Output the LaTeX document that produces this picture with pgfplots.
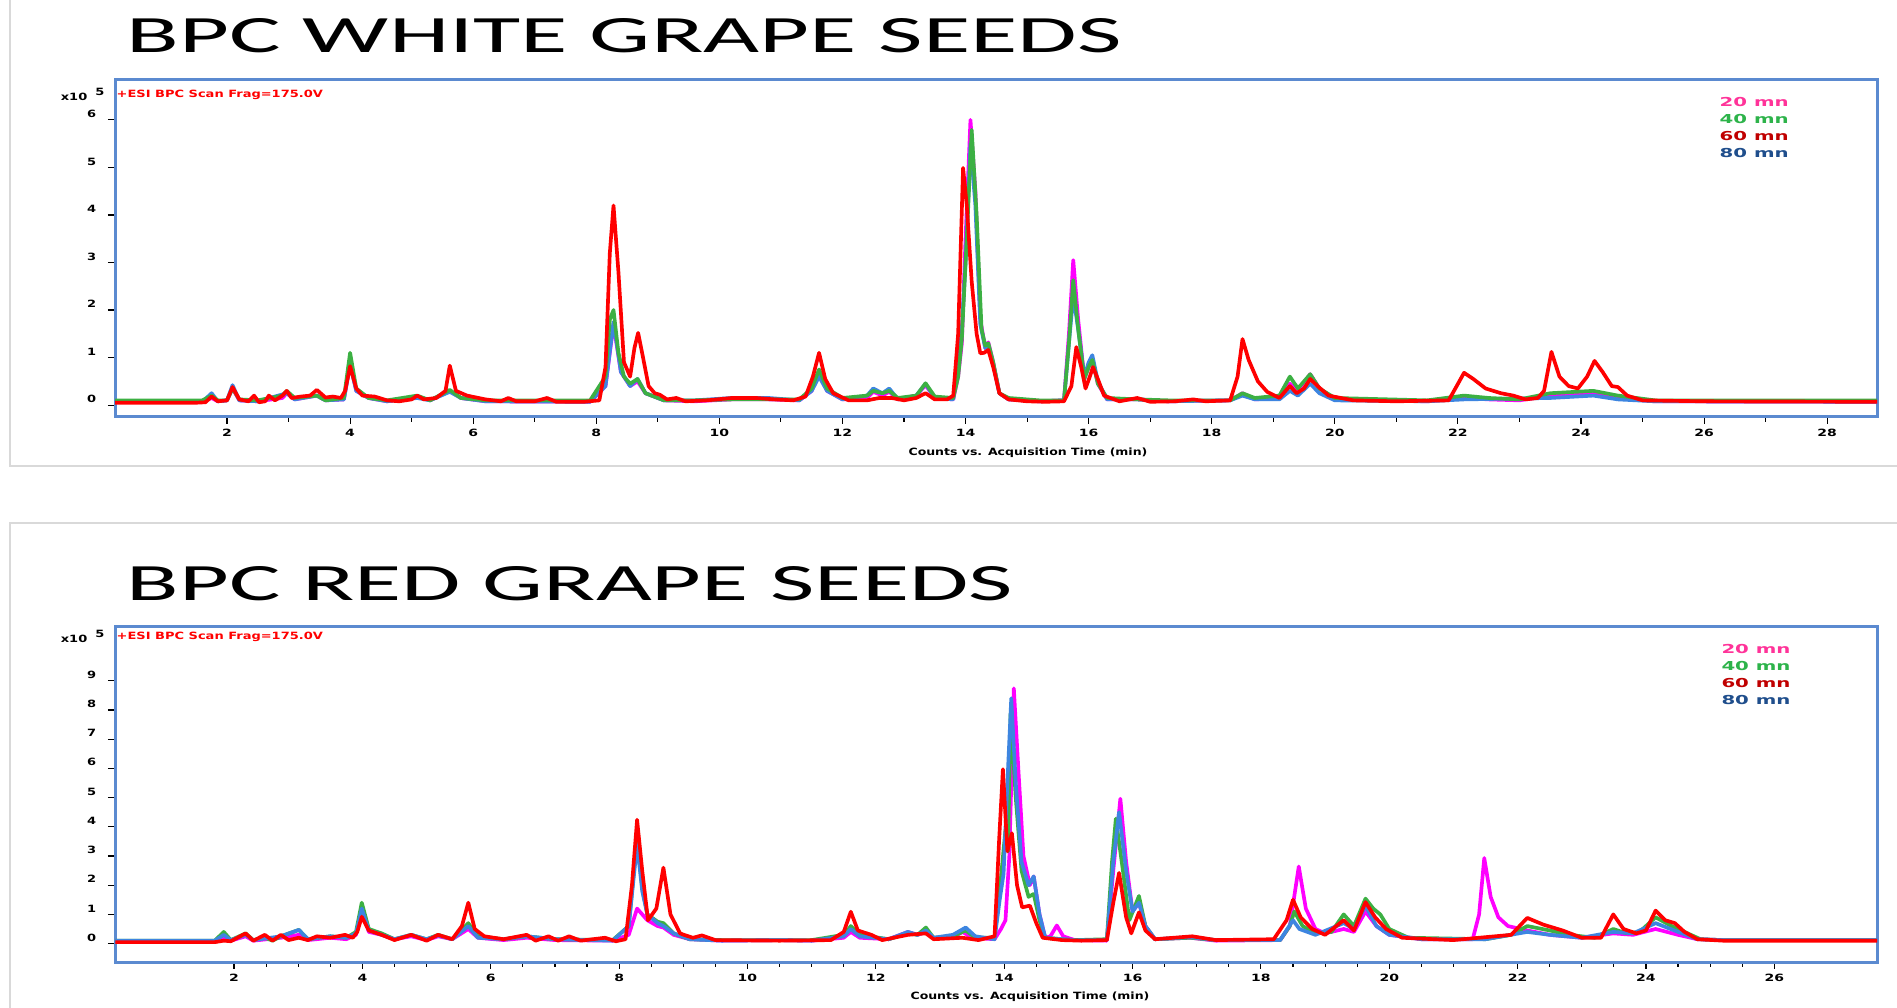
\documentclass[border=0pt]{standalone}
\usepackage{pgfplots}
\pgfplotsset{compat=1.18}
\usepackage{fontspec}
\setmainfont{DejaVu Sans}
\newfontfamily\titlefont{Carlito}
\definecolor{cmag}{HTML}{FF00FF}
\definecolor{cgreen}{HTML}{3CB043}
\definecolor{cred}{HTML}{FF0000}
\definecolor{cblue}{HTML}{3D85E0}
\definecolor{lpink}{HTML}{FF3399}
\definecolor{lgreen}{HTML}{2DB34A}
\definecolor{lred}{HTML}{C00000}
\definecolor{lblue}{HTML}{1F4E8C}
\definecolor{boxblue}{HTML}{5B8AD0}
\definecolor{framegray}{HTML}{D9D9D9}
\newcommand\tinyfont{\fontsize{3.0bp}{3.6bp}\selectfont\bfseries}
\newcommand\legfont{\fontsize{3.7bp}{4.4bp}\selectfont\bfseries}
\pgfplotsset{chrom/.style={
  scale only axis, width=528.6bp, anchor=south west,
  axis line style={draw=boxblue, line width=0.9bp},
  tick style={black, line width=0.35bp},
  tick align=outside, major tick length=2.1bp, minor tick length=1.5bp,
  tick pos=left,
  tick label style={font=\tinyfont},
  xticklabel style={xscale=1.4, yshift=2bp},
  yticklabel style={xscale=1.3, yshift=1.8bp, xshift=0.8bp},
  /pgf/number format/assume math mode=true,
  enlargelimits=false,
  every axis plot/.append style={line width=1.1bp, line join=round},
  legend image code/.code={},
  legend cell align=left,
  legend style={draw=none, fill=none, font=\legfont, anchor=north west,
    row sep=0pt, nodes={inner sep=0.9bp, text height=2.7bp, text depth=0.6bp}},
}}
\begin{document}
\begin{tikzpicture}
\fill[white] (0,0) rectangle (569.1bp,302.4bp);
\path[use as bounding box] (0,0) rectangle (569.1bp,302.4bp);
% ---------------- TOP: WHITE ----------------
\begin{axis}[chrom, at={(34.5bp,177.3bp)}, height=101.4bp,
  xmin=0.18, xmax=28.81, ymin=-0.25, ymax=6.86,
  xtick={2,4,...,28}, minor x tick num=1, ytick={0,1,...,6},
  legend style={at={(axis description cs:0.903,0.975)}}]
\addplot[cmag] coordinates {(0.18,0.07) (1.6,0.07) (1.75,0.15) (1.85,0.08) (2.0,0.1) (2.09,0.35) (2.2,0.1) (2.5,0.08) (2.9,0.15) (2.97,0.25) (3.1,0.12) (3.46,0.2) (3.6,0.1) (3.9,0.12) (4.0,0.9) (4.1,0.3) (4.3,0.15) (4.6,0.08) (5.09,0.18) (5.3,0.1) (5.62,0.3) (5.8,0.15) (6.2,0.08) (7.9,0.07) (8.15,0.4) (8.28,1.7) (8.4,0.7) (8.55,0.4) (8.67,0.5) (8.8,0.25) (9.1,0.1) (9.6,0.08) (10.2,0.12) (10.8,0.12) (11.3,0.1) (11.5,0.3) (11.62,0.65) (11.75,0.3) (12.0,0.12) (12.4,0.15) (12.5,0.28) (12.65,0.2) (12.76,0.28) (12.9,0.12) (13.2,0.2) (13.35,0.42) (13.5,0.15) (13.8,0.12) (13.88,0.6) (13.94,1.3) (14.0,3.5) (14.08,6.0) (14.16,4.5) (14.24,1.8) (14.32,1.2) (14.37,1.32) (14.45,0.9) (14.55,0.25) (14.7,0.12) (15.2,0.08) (15.6,0.1) (15.68,1.5) (15.75,3.05) (15.83,1.8) (15.93,0.55) (16.0,0.8) (16.06,0.95) (16.15,0.45) (16.3,0.12) (16.8,0.12) (17.3,0.08) (18.3,0.1) (18.5,0.25) (18.7,0.12) (19.1,0.15) (19.27,0.45) (19.4,0.3) (19.6,0.65) (19.75,0.35) (20.0,0.12) (21.5,0.08) (22.1,0.15) (22.5,0.12) (23.0,0.1) (23.5,0.2) (24.2,0.25) (24.6,0.15) (25.2,0.08) (28.81,0.07)};
\addlegendentry[text=lpink]{\scalebox{1.6}[1]{20 mn}}
\addplot[cblue, forget plot] coordinates {(0.18,0.07) (1.6,0.07) (1.75,0.25) (1.85,0.08) (2.0,0.1) (2.09,0.42) (2.2,0.1) (2.5,0.08) (2.97,0.25) (3.1,0.12) (3.46,0.2) (3.6,0.1) (3.9,0.12) (4.0,0.85) (4.1,0.3) (4.3,0.15) (4.6,0.08) (5.09,0.15) (5.3,0.1) (5.62,0.28) (5.8,0.15) (6.2,0.08) (7.9,0.07) (8.15,0.4) (8.28,1.75) (8.4,0.7) (8.55,0.4) (8.67,0.55) (8.8,0.25) (9.1,0.1) (9.6,0.1) (10.2,0.15) (10.8,0.15) (11.3,0.1) (11.5,0.3) (11.62,0.6) (11.75,0.3) (12.0,0.12) (12.4,0.2) (12.5,0.35) (12.65,0.25) (12.76,0.35) (12.9,0.12) (13.2,0.2) (13.35,0.45) (13.5,0.15) (13.8,0.12) (13.88,0.8) (13.94,1.6) (14.0,3.0) (14.08,5.5) (14.16,4.2) (14.24,1.7) (14.32,1.2) (14.37,1.25) (14.45,0.85) (14.55,0.25) (14.7,0.12) (15.2,0.08) (15.6,0.1) (15.68,1.3) (15.75,2.3) (15.83,1.6) (15.93,0.6) (16.0,0.9) (16.06,1.05) (16.15,0.5) (16.3,0.12) (16.8,0.12) (17.3,0.08) (18.3,0.1) (18.5,0.2) (18.7,0.12) (19.1,0.12) (19.27,0.3) (19.4,0.2) (19.6,0.45) (19.75,0.25) (20.0,0.1) (21.5,0.08) (22.1,0.12) (23.5,0.15) (24.2,0.2) (24.6,0.12) (25.2,0.08) (28.81,0.07)};
\addplot[cgreen] coordinates {(0.18,0.1) (1.6,0.1) (1.75,0.2) (1.85,0.1) (2.0,0.1) (2.09,0.35) (2.2,0.12) (2.5,0.1) (2.9,0.2) (2.97,0.3) (3.1,0.15) (3.46,0.2) (3.6,0.1) (3.9,0.15) (4.0,1.1) (4.1,0.35) (4.3,0.15) (4.6,0.1) (5.09,0.2) (5.3,0.1) (5.62,0.32) (5.8,0.15) (6.2,0.1) (7.9,0.1) (8.15,0.6) (8.22,1.8) (8.28,2.0) (8.36,1.1) (8.45,0.6) (8.55,0.45) (8.67,0.55) (8.8,0.25) (9.1,0.1) (9.6,0.1) (10.2,0.12) (10.8,0.12) (11.3,0.12) (11.5,0.35) (11.62,0.75) (11.75,0.35) (12.0,0.15) (12.4,0.2) (12.5,0.3) (12.65,0.25) (12.76,0.3) (12.9,0.15) (13.2,0.2) (13.35,0.46) (13.5,0.18) (13.8,0.15) (13.88,0.6) (13.94,1.4) (14.02,3.5) (14.1,5.79) (14.18,4.0) (14.26,1.6) (14.32,1.25) (14.37,1.3) (14.45,0.9) (14.55,0.25) (14.7,0.15) (15.2,0.1) (15.6,0.1) (15.68,1.3) (15.75,2.63) (15.83,1.6) (15.93,0.55) (16.0,0.8) (16.06,0.95) (16.15,0.45) (16.3,0.15) (16.8,0.12) (17.3,0.1) (18.3,0.1) (18.5,0.25) (18.7,0.15) (19.1,0.2) (19.27,0.6) (19.4,0.35) (19.6,0.65) (19.75,0.35) (20.0,0.15) (21.5,0.1) (22.1,0.2) (22.5,0.15) (23.0,0.12) (23.5,0.25) (24.2,0.3) (24.6,0.2) (25.2,0.1) (28.81,0.1)};
\addlegendentry[text=lgreen]{\scalebox{1.6}[1]{40 mn}}
\addplot[cred] coordinates {(0.18,0.05) (1.5,0.05) (1.65,0.06) (1.75,0.18) (1.85,0.08) (2.0,0.1) (2.09,0.38) (2.2,0.12) (2.35,0.08) (2.44,0.2) (2.52,0.06) (2.62,0.08) (2.68,0.2) (2.78,0.1) (2.9,0.2) (2.97,0.3) (3.05,0.15) (3.2,0.18) (3.35,0.2) (3.46,0.32) (3.6,0.16) (3.72,0.18) (3.85,0.15) (3.92,0.3) (4.0,0.82) (4.1,0.35) (4.2,0.2) (4.4,0.18) (4.6,0.1) (4.8,0.08) (5.0,0.12) (5.09,0.2) (5.2,0.12) (5.4,0.15) (5.55,0.3) (5.62,0.83) (5.72,0.3) (5.9,0.2) (6.2,0.12) (6.45,0.08) (6.57,0.15) (6.7,0.08) (7.0,0.08) (7.2,0.15) (7.35,0.07) (7.8,0.07) (8.05,0.1) (8.15,0.8) (8.22,3.2) (8.28,4.2) (8.36,2.8) (8.45,0.9) (8.55,0.6) (8.62,1.2) (8.68,1.52) (8.76,1.0) (8.85,0.4) (8.95,0.25) (9.03,0.22) (9.15,0.12) (9.3,0.15) (9.45,0.08) (9.8,0.1) (10.2,0.15) (10.6,0.15) (10.9,0.12) (11.2,0.1) (11.4,0.18) (11.52,0.6) (11.62,1.1) (11.72,0.55) (11.85,0.25) (12.1,0.1) (12.4,0.1) (12.6,0.15) (12.8,0.15) (13.0,0.1) (13.2,0.15) (13.35,0.25) (13.5,0.12) (13.7,0.12) (13.8,0.2) (13.88,1.5) (13.96,4.99) (14.02,4.2) (14.1,2.6) (14.18,1.5) (14.24,1.09) (14.3,1.1) (14.37,1.16) (14.45,0.8) (14.55,0.25) (14.7,0.12) (15.0,0.08) (15.3,0.07) (15.6,0.08) (15.72,0.4) (15.8,1.22) (15.88,0.8) (15.95,0.35) (16.02,0.6) (16.07,0.8) (16.15,0.55) (16.25,0.2) (16.5,0.08) (16.79,0.15) (17.0,0.07) (17.4,0.08) (17.7,0.12) (17.9,0.08) (18.3,0.1) (18.42,0.6) (18.5,1.39) (18.6,0.95) (18.75,0.5) (18.9,0.28) (19.1,0.15) (19.2,0.3) (19.27,0.4) (19.38,0.25) (19.5,0.35) (19.6,0.55) (19.72,0.4) (19.9,0.2) (20.3,0.1) (21.0,0.08) (21.85,0.1) (21.98,0.4) (22.1,0.68) (22.25,0.55) (22.45,0.35) (22.7,0.25) (22.9,0.2) (23.1,0.12) (23.3,0.15) (23.4,0.3) (23.52,1.12) (23.65,0.6) (23.8,0.4) (23.95,0.35) (24.1,0.6) (24.22,0.93) (24.35,0.7) (24.5,0.4) (24.6,0.38) (24.75,0.2) (25.0,0.1) (26.0,0.08) (28.81,0.07)};
\addlegendentry[text=lred]{\scalebox{1.6}[1]{60 mn}}
\addlegendimage{draw=none}
\addlegendentry[text=lblue]{\scalebox{1.6}[1]{80 mn}}
\end{axis}
% ---------------- BOTTOM: RED ----------------
\begin{axis}[chrom, at={(34.5bp,13.8bp)}, height=100.5bp,
  xmin=0.145, xmax=27.6, ymin=-0.63, ymax=10.84,
  xtick={2,4,...,26}, minor x tick num=3, ytick={0,1,...,9},
  legend style={at={(axis description cs:0.904,0.978)}}]
\addplot[cmag] coordinates {(0.15,0.08) (1.7,0.08) (1.84,0.2) (1.95,0.1) (2.18,0.25) (2.3,0.1) (2.73,0.2) (3.01,0.3) (3.15,0.12) (3.5,0.2) (3.75,0.15) (3.9,0.3) (3.99,1.1) (4.1,0.4) (4.3,0.3) (4.5,0.15) (4.76,0.25) (5.0,0.12) (5.18,0.25) (5.4,0.15) (5.65,0.5) (5.8,0.2) (6.2,0.12) (6.56,0.2) (7.0,0.12) (7.9,0.1) (8.15,0.3) (8.28,1.2) (8.44,0.8) (8.6,0.6) (8.69,0.55) (8.85,0.3) (9.1,0.15) (9.6,0.1) (10.5,0.12) (11.0,0.1) (11.5,0.2) (11.61,0.4) (11.75,0.2) (12.2,0.15) (12.5,0.4) (12.65,0.3) (12.78,0.4) (12.9,0.2) (13.2,0.2) (13.35,0.4) (13.5,0.2) (13.85,0.15) (13.95,0.5) (14.02,0.8) (14.08,3.0) (14.15,8.74) (14.22,6.0) (14.3,3.0) (14.4,2.0) (14.46,2.3) (14.55,1.0) (14.64,0.2) (14.72,0.25) (14.82,0.62) (14.92,0.25) (15.1,0.12) (15.6,0.1) (15.7,2.5) (15.81,4.96) (15.9,2.8) (16.0,1.1) (16.1,1.4) (16.2,0.6) (16.35,0.15) (16.9,0.2) (17.3,0.1) (18.3,0.12) (18.45,0.6) (18.59,2.64) (18.7,1.2) (18.85,0.5) (19.0,0.35) (19.29,0.5) (19.45,0.4) (19.63,1.1) (19.8,0.6) (20.0,0.3) (20.5,0.15) (21.3,0.15) (21.4,1.0) (21.48,2.93) (21.58,1.6) (21.7,0.9) (21.85,0.6) (22.15,0.45) (22.5,0.3) (23.0,0.2) (23.49,0.35) (23.8,0.3) (24.15,0.5) (24.5,0.3) (24.8,0.15) (25.2,0.12) (27.6,0.12)};
\addlegendentry[text=lpink]{\scalebox{1.6}[1]{20 mn}}
\addplot[cgreen] coordinates {(0.15,0.1) (1.7,0.1) (1.84,0.4) (1.95,0.12) (2.18,0.35) (2.3,0.12) (2.48,0.2) (2.6,0.1) (2.73,0.25) (3.01,0.47) (3.15,0.15) (3.5,0.25) (3.75,0.2) (3.9,0.4) (3.99,1.4) (4.1,0.5) (4.3,0.35) (4.5,0.15) (4.76,0.3) (5.0,0.15) (5.18,0.3) (5.4,0.15) (5.65,0.7) (5.8,0.25) (6.2,0.15) (6.56,0.25) (7.0,0.15) (7.9,0.12) (8.15,0.6) (8.28,3.67) (8.36,1.9) (8.44,1.0) (8.6,0.75) (8.69,0.7) (8.85,0.35) (9.1,0.15) (9.6,0.12) (10.5,0.12) (11.0,0.12) (11.5,0.3) (11.61,0.6) (11.75,0.3) (12.2,0.15) (12.5,0.35) (12.65,0.3) (12.78,0.55) (12.9,0.2) (13.2,0.25) (13.4,0.45) (13.55,0.2) (13.85,0.2) (13.93,1.8) (14.02,3.9) (14.06,3.16) (14.1,7.9) (14.18,5.0) (14.27,2.5) (14.38,1.6) (14.46,1.7) (14.55,0.8) (14.64,0.2) (14.9,0.15) (15.1,0.12) (15.6,0.15) (15.68,2.8) (15.74,4.28) (15.85,2.5) (15.95,0.8) (16.1,1.63) (16.2,0.6) (16.35,0.15) (16.9,0.2) (17.3,0.12) (18.3,0.12) (18.45,0.6) (18.52,1.1) (18.65,0.6) (18.85,0.35) (19.1,0.4) (19.29,1.0) (19.45,0.6) (19.63,1.54) (19.75,1.2) (19.86,1.0) (20.0,0.5) (20.3,0.2) (21.5,0.15) (21.9,0.3) (22.15,0.6) (22.5,0.45) (22.8,0.3) (23.2,0.2) (23.49,0.5) (23.7,0.35) (23.9,0.4) (24.15,0.9) (24.4,0.6) (24.6,0.4) (24.85,0.15) (25.2,0.12) (27.6,0.12)};
\addlegendentry[text=lgreen]{\scalebox{1.6}[1]{40 mn}}
\addplot[cblue, forget plot] coordinates {(0.15,0.1) (1.7,0.1) (1.84,0.3) (1.95,0.12) (2.18,0.3) (2.3,0.12) (2.73,0.25) (3.01,0.47) (3.15,0.15) (3.5,0.25) (3.75,0.2) (3.9,0.35) (3.99,1.2) (4.1,0.45) (4.3,0.3) (4.5,0.15) (4.76,0.3) (5.0,0.15) (5.18,0.28) (5.4,0.15) (5.65,0.6) (5.8,0.2) (6.2,0.15) (6.56,0.25) (7.0,0.15) (7.9,0.1) (8.15,0.6) (8.28,3.4) (8.36,1.8) (8.44,1.0) (8.6,0.7) (8.69,0.6) (8.85,0.35) (9.1,0.15) (9.6,0.1) (10.5,0.12) (11.0,0.1) (11.5,0.25) (11.61,0.5) (11.75,0.25) (12.2,0.15) (12.5,0.4) (12.65,0.3) (12.78,0.45) (12.9,0.2) (13.2,0.3) (13.4,0.55) (13.55,0.25) (13.85,0.15) (13.93,1.5) (13.99,2.38) (14.05,5.5) (14.11,8.4) (14.18,5.5) (14.27,2.8) (14.38,2.0) (14.46,2.3) (14.55,1.0) (14.64,0.2) (14.9,0.15) (15.1,0.12) (15.6,0.12) (15.7,2.8) (15.79,4.5) (15.9,2.5) (16.0,1.1) (16.1,1.4) (16.2,0.6) (16.35,0.15) (16.9,0.22) (17.3,0.12) (18.3,0.12) (18.5,0.8) (18.6,0.5) (18.85,0.3) (19.29,0.7) (19.45,0.5) (19.63,1.3) (19.8,0.6) (20.0,0.3) (20.5,0.15) (21.5,0.15) (22.15,0.4) (22.5,0.3) (23.0,0.2) (23.49,0.4) (23.8,0.35) (24.15,0.7) (24.5,0.4) (24.8,0.15) (25.2,0.12) (27.6,0.12)};
\addplot[cred] coordinates {(0.15,0.05) (1.7,0.05) (1.84,0.1) (1.95,0.08) (2.18,0.35) (2.3,0.1) (2.48,0.3) (2.6,0.1) (2.73,0.3) (2.85,0.12) (3.01,0.2) (3.15,0.12) (3.29,0.25) (3.5,0.2) (3.73,0.3) (3.85,0.2) (3.92,0.4) (3.99,0.92) (4.1,0.45) (4.3,0.3) (4.5,0.12) (4.76,0.3) (5.0,0.1) (5.18,0.3) (5.4,0.15) (5.55,0.6) (5.65,1.4) (5.75,0.5) (5.9,0.25) (6.2,0.15) (6.56,0.3) (6.7,0.1) (6.9,0.25) (7.05,0.1) (7.22,0.25) (7.4,0.1) (7.78,0.2) (7.95,0.08) (8.1,0.15) (8.2,2.0) (8.28,4.24) (8.36,2.5) (8.45,0.8) (8.58,1.2) (8.69,2.6) (8.8,1.0) (8.95,0.35) (9.01,0.3) (9.15,0.2) (9.29,0.28) (9.5,0.12) (10.5,0.1) (11.3,0.12) (11.5,0.4) (11.61,1.09) (11.72,0.45) (11.93,0.3) (12.1,0.12) (12.5,0.3) (12.78,0.35) (12.9,0.15) (13.35,0.2) (13.6,0.12) (13.85,0.25) (13.92,3.5) (13.98,5.97) (14.05,3.16) (14.12,3.78) (14.2,2.0) (14.28,1.24) (14.4,1.3) (14.5,0.7) (14.6,0.2) (14.9,0.12) (15.2,0.1) (15.6,0.12) (15.7,1.4) (15.79,2.42) (15.9,0.9) (15.98,0.35) (16.1,1.07) (16.2,0.45) (16.35,0.15) (16.93,0.25) (17.3,0.12) (18.2,0.15) (18.4,0.8) (18.5,1.5) (18.62,0.9) (18.8,0.5) (19.0,0.3) (19.29,0.8) (19.45,0.45) (19.63,1.42) (19.78,0.9) (19.95,0.5) (20.2,0.2) (21.0,0.12) (21.9,0.3) (22.15,0.88) (22.4,0.65) (22.7,0.45) (23.0,0.2) (23.3,0.2) (23.49,1.0) (23.65,0.5) (23.85,0.35) (24.0,0.45) (24.15,1.13) (24.3,0.8) (24.45,0.7) (24.6,0.4) (24.8,0.15) (25.2,0.1) (27.6,0.1)};
\addlegendentry[text=lred]{\scalebox{1.6}[1]{60 mn}}
\addlegendimage{draw=none}
\addlegendentry[text=lblue]{\scalebox{1.6}[1]{80 mn}}
\end{axis}
% ---------------- annotations (pixel grid of the reference) ----------------
\begin{scope}[x=0.3bp, y=-0.3bp, shift={(0,302.4bp)}]
\draw[framegray, line width=0.6bp] (10,0) -- (10,466) -- (1897,466);
\draw[framegray, line width=0.6bp] (1897,523) -- (10,523) -- (10,1008);
\node[anchor=base west, inner sep=0] at (126,53) {\resizebox{298.5bp}{10.2bp}{\titlefont BPC WHITE GRAPE SEEDS}};
\node[anchor=base west, inner sep=0] at (126,601) {\resizebox{265.8bp}{10.2bp}{\titlefont BPC RED GRAPE SEEDS}};
\foreach \yy in {0,542} {
  \node[anchor=east, inner sep=0, font=\tinyfont] at (88,97+\yy) {\scalebox{1.3}[1]{x10}};
  \node[inner sep=0, font=\tinyfont] at (100,92+\yy) {\scalebox{1.3}[1]{5}};
  \node[anchor=west, inner sep=0, font=\tinyfont, text=cred] at (116,95+\yy) {\scalebox{1.3}[1]{+ESI BPC Scan Frag=175.0V}};
}
\node[inner sep=0, font=\tinyfont] at (1028,453) {\scalebox{1.25}[1]{Counts vs. Acquisition Time (min)}};
\node[inner sep=0, font=\tinyfont] at (1030,997) {\scalebox{1.25}[1]{Counts vs. Acquisition Time (min)}};
\end{scope}
\end{tikzpicture}
\end{document}
